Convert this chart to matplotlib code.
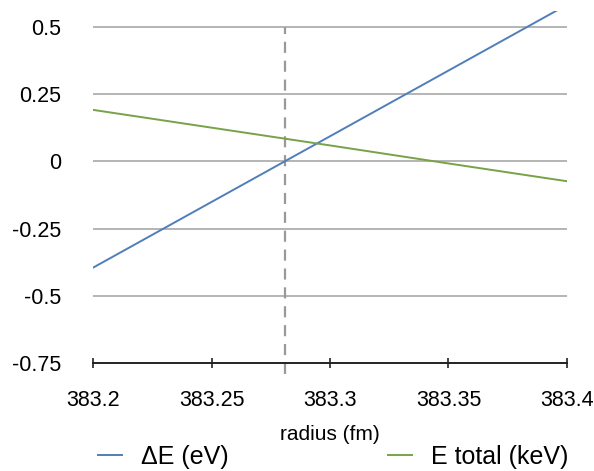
"""
Delta E and total energy against radius, with the zero crossing marked.
"""

import matplotlib
matplotlib.use("Agg")
import matplotlib.pyplot as plt

# Data
radius = [383.2, 383.25, 383.3, 383.35, 383.4]
delta_e = [-0.395, -0.151, 0.093, 0.337, 0.581]
e_total = [0.191, 0.125, 0.059, -0.008, -0.074]
crossing_x = [383.281, 383.281]
crossing_y = [-0.79, 0.5]

x_ticks = [383.2, 383.25, 383.3, 383.35, 383.4]
x_tick_labels = ["383.2", "383.25", "383.3", "383.35", "383.4"]
y_ticks = [-0.75, -0.5, -0.25, 0, 0.25, 0.5]
y_tick_labels = ["-0.75", "-0.5", "-0.25", "0", "0.25", "0.5"]


def main():
    plt.rcParams["font.family"] = ["Liberation Sans", "DejaVu Sans"]

    fig = plt.figure(figsize=(5.94, 4.71), dpi=100)
    ax = fig.add_axes([0.1566, 0.2287, 0.7979, 0.749])

    # Gridlines (skip the bottom one, that's the axis)
    for y in y_ticks[1:]:
        ax.axhline(y, color="#a8a8a8", linewidth=1.2, zorder=1)

    # Dashed marker for the zero crossing
    ax.plot(crossing_x, crossing_y, color="#999999", linewidth=1.6,
            linestyle=(0, (5, 3.5)), clip_on=False, zorder=2)

    # The two series
    line_de, = ax.plot(radius, delta_e, color="#4f7fb8", linewidth=1.4,
                       label="ΔE (eV)", zorder=3)
    line_et, = ax.plot(radius, e_total, color="#77a347", linewidth=1.4,
                       label="E total (keV)", zorder=3)

    ax.set_xlim(383.2, 383.4)
    ax.set_ylim(-0.75, 0.56)

    # Spines: only the bottom axis
    for side in ["left", "right", "top"]:
        ax.spines[side].set_visible(False)
    ax.spines["bottom"].set_color("#222222")
    ax.spines["bottom"].set_linewidth(1.4)

    # Ticks format
    ax.set_xticks(x_ticks)
    ax.set_xticklabels(x_tick_labels)
    ax.set_yticks(y_ticks)
    ax.set_yticklabels(y_tick_labels)
    ax.tick_params(axis="x", direction="inout", length=7, width=1.2,
                   color="#222222", pad=16, labelsize=15.5)
    ax.tick_params(axis="y", length=0, pad=23, labelsize=15.5)

    ax.set_xlabel("radius (fm)", fontsize=15, labelpad=10)

    # Legend at the bottom
    fig.legend(handles=[line_de, line_et], loc="center left",
               bbox_to_anchor=(0.165, 0.03), ncol=2, frameon=False,
               fontsize=18, handlelength=0.95, handletextpad=0.75,
               columnspacing=6.4, borderpad=0, borderaxespad=0)

    plt.savefig("out.png", dpi=100)


if __name__ == "__main__":
    main()
